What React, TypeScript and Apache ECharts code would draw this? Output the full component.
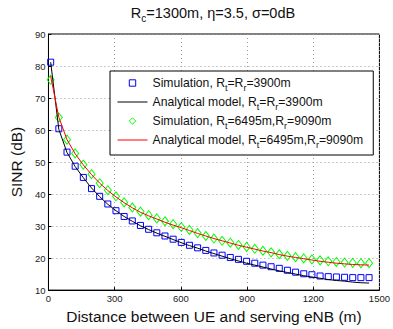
import React, { useEffect, useRef } from "react";
import * as echarts from "echarts";

const distances = [10, 47, 84, 121, 158, 195, 232, 269, 306, 343, 380, 417, 454, 491, 528, 565, 602, 639, 676, 713, 750, 787, 824, 861, 898, 935, 972, 1009, 1046, 1083, 1120, 1157, 1194, 1231, 1268, 1305, 1342, 1379, 1416, 1453];

const simSmall = [81.2, 60.4, 53.1, 48.7, 45.2, 41.7, 39.3, 36.9, 34.8, 33.0, 31.6, 30.2, 29.0, 27.9, 26.9, 25.9, 24.9, 24.0, 23.2, 22.4, 21.6, 20.9, 20.2, 19.6, 19.0, 18.4, 17.8, 17.3, 16.8, 16.2, 15.6, 15.1, 14.8, 14.4, 14.2, 14.1, 14.0, 13.9, 13.9, 13.9];
const anaSmall = [81.2, 60.2, 53.0, 48.6, 45.1, 41.9, 39.2, 36.8, 34.8, 33.0, 31.5, 30.1, 28.9, 27.8, 26.8, 25.8, 24.8, 23.9, 23.1, 22.2, 21.4, 20.6, 19.8, 19.1, 18.4, 17.8, 17.2, 16.6, 16.0, 15.5, 15.0, 14.5, 14.1, 13.7, 13.3, 13.0, 12.8, 12.5, 12.3, 12.2];
const simLarge = [75.7, 63.9, 57.0, 52.7, 49.2, 46.2, 43.4, 41.2, 39.3, 37.4, 35.8, 34.5, 33.4, 32.4, 31.5, 30.6, 29.7, 28.8, 27.8, 26.9, 26.1, 25.4, 24.8, 24.1, 23.5, 22.9, 22.3, 21.8, 21.2, 20.7, 20.3, 19.9, 19.6, 19.3, 19.0, 18.8, 18.6, 18.5, 18.4, 18.4];
const anaLarge = [76.8, 64.0, 57.0, 52.6, 49.1, 46.1, 43.4, 41.1, 39.1, 37.3, 35.7, 34.3, 33.2, 32.2, 31.2, 30.3, 29.5, 28.6, 27.7, 26.9, 26.1, 25.4, 24.7, 24.0, 23.4, 22.8, 22.2, 21.7, 21.1, 20.6, 20.2, 19.8, 19.4, 19.0, 18.7, 18.4, 18.2, 18.0, 17.9, 17.8];

const seriesNames = [
  "Simulation, Rt=Rr=3900m",
  "Analytical model, Rt=Rr=3900m",
  "Simulation, Rt=6495m,Rr=9090m",
  "Analytical model, Rt=6495m,Rr=9090m",
];
const legendRich = [
  "{n|Simulation, R}{s|t}{n|=R}{s|r}{n|=3900m}",
  "{n|Analytical model, R}{s|t}{n|=R}{s|r}{n|=3900m}",
  "{n|Simulation, R}{s|t}{n|=6495m,R}{s|r}{n|=9090m}",
  "{n|Analytical model, R}{s|t}{n|=6495m,R}{s|r}{n|=9090m}",
];

const xTicks = { min: 0, max: 1500, interval: 300 };
const yTicks = { min: 10, max: 90, interval: 10 };

const FONT = "Liberation Sans, Arial, sans-serif";

export default function App() {
  const ref = useRef<HTMLDivElement>(null);
  useEffect(() => {
    if (!ref.current) return;
    const chart = echarts.init(ref.current, undefined, { renderer: "svg" });
    const pairs = (ys: number[]) => distances.map((d, i) => [d, ys[i]]);
    const axisCommon = {
      axisLine: { show: true, lineStyle: { color: "#000", width: 1 } },
      axisTick: { show: true, inside: true, length: 3, lineStyle: { color: "#000" } },
      splitLine: { show: true, lineStyle: { color: "#999", type: [1, 3], width: 1 } },
      axisLabel: { color: "#222", fontSize: 9.5, fontFamily: FONT, formatter: (v: number) => String(v) },
      nameTextStyle: { color: "#111", fontSize: 15.5, fontFamily: FONT },
    };
    chart.setOption({
      animation: false,
      backgroundColor: "#fff",
      title: {
        text: "{n|R}{s|c}{n|=1300m, η=3.5, σ=0dB}",
        left: 213,
        top: 3,
        padding: 0,
        textAlign: "center",
        textStyle: {
          fontFamily: FONT,
          fontWeight: "normal",
          rich: {
            n: { fontSize: 14.5, color: "#111", fontFamily: FONT, fontWeight: "normal", lineHeight: 20 },
            s: { fontSize: 10, color: "#111", fontFamily: FONT, fontWeight: "normal", verticalAlign: "bottom", lineHeight: 7 },
          },
        },
      },
      grid: {
        left: 44,
        right: 10,
        top: 34,
        bottom: 34,
        show: true,
        borderColor: "#000",
        borderWidth: 1,
        backgroundColor: "transparent",
      },
      legend: {
        orient: "vertical",
        left: 110,
        top: 71,
        padding: [6, 10, 6, 7],
        borderColor: "#000",
        borderWidth: 1,
        backgroundColor: "#fff",
        itemWidth: 30,
        itemHeight: 8,
        itemGap: 4,
        lineStyle: { width: 1 },
        itemStyle: { borderWidth: 1 },
        data: [
          { name: seriesNames[0], lineStyle: { opacity: 0, width: 0 } },
          { name: seriesNames[1] },
          { name: seriesNames[2], lineStyle: { opacity: 0, width: 0 } },
          { name: seriesNames[3] },
        ],
        formatter: (name: string) => legendRich[seriesNames.indexOf(name)],
        textStyle: {
          fontFamily: FONT,
          rich: {
            n: { fontSize: 12.2, color: "#111", fontFamily: FONT, lineHeight: 18 },
            s: { fontSize: 9, color: "#111", fontFamily: FONT, verticalAlign: "bottom", lineHeight: 6 },
          },
        },
      },
      xAxis: {
        type: "value",
        ...xTicks,
        ...axisCommon,
        name: "Distance between UE and serving eNB (m)",
        nameLocation: "middle",
        nameGap: 14,
        axisLabel: { ...axisCommon.axisLabel, margin: 3 },
      },
      yAxis: {
        type: "value",
        ...yTicks,
        ...axisCommon,
        name: "SINR (dB)",
        nameLocation: "middle",
        nameGap: 19,
        axisLabel: { ...axisCommon.axisLabel, margin: 3 },
      },
      series: [
        {
          name: seriesNames[0],
          type: "line",
          data: pairs(simSmall),
          symbol: "rect",
          symbolSize: 6,
          showSymbol: true,
          lineStyle: { width: 0, opacity: 0 },
          itemStyle: { color: "rgba(255,255,255,0)", borderColor: "#0000ff", borderWidth: 1 },
          z: 3,
        },
        {
          name: seriesNames[1],
          type: "line",
          data: pairs(anaSmall),
          symbol: "none",
          lineStyle: { color: "#000", width: 1 },
          itemStyle: { color: "rgba(0,0,0,0)" },
          z: 4,
        },
        {
          name: seriesNames[2],
          type: "line",
          data: pairs(simLarge),
          symbol: "diamond",
          symbolSize: [7, 9],
          showSymbol: true,
          lineStyle: { width: 0, opacity: 0 },
          itemStyle: { color: "rgba(255,255,255,0)", borderColor: "#00ff00", borderWidth: 1 },
          z: 3,
        },
        {
          name: seriesNames[3],
          type: "line",
          data: pairs(anaLarge),
          symbol: "none",
          lineStyle: { color: "#ff0000", width: 1 },
          itemStyle: { color: "rgba(0,0,0,0)" },
          z: 4,
        },
      ],
    });
    return () => chart.dispose();
  }, []);
  return <div ref={ref} style={{ width: 393, height: 329, position: "absolute", left: 0, top: 0 }} />;
}
